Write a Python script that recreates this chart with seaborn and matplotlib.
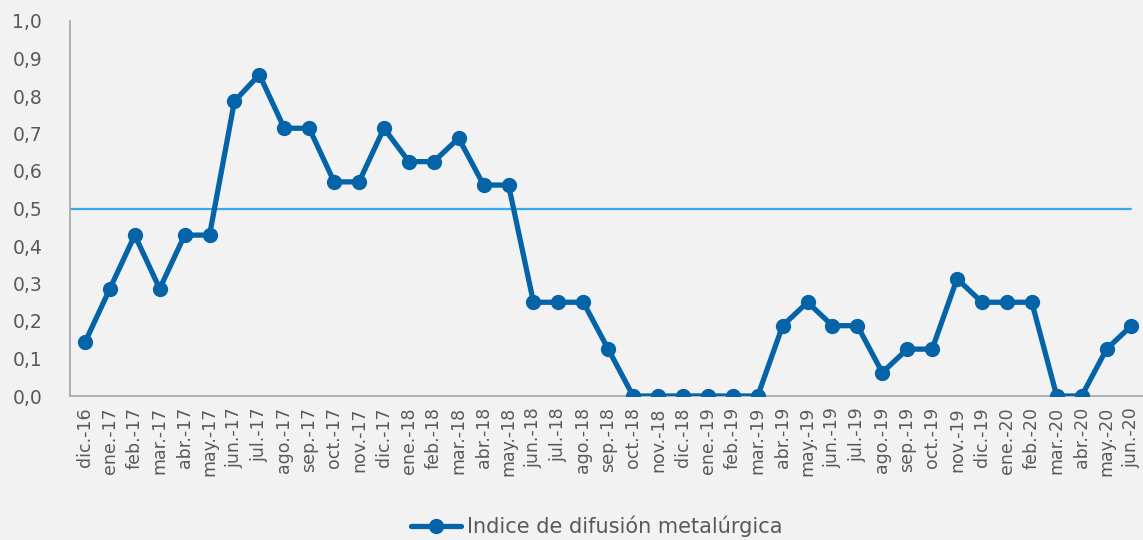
import matplotlib
matplotlib.use("Agg")
import matplotlib.pyplot as plt
from matplotlib.lines import Line2D
import pandas as pd
import numpy as np
import seaborn as sns

# datos
meses = ["dic.-16",
         "ene.-17", "feb.-17", "mar.-17", "abr.-17", "may.-17", "jun.-17",
         "jul.-17", "ago.-17", "sep.-17", "oct.-17", "nov.-17", "dic.-17",
         "ene.-18", "feb.-18", "mar.-18", "abr.-18", "may.-18", "jun.-18",
         "jul.-18", "ago.-18", "sep.-18", "oct.-18", "nov.-18", "dic.-18",
         "ene.-19", "feb.-19", "mar.-19", "abr.-19", "may.-19", "jun.-19",
         "jul.-19", "ago.-19", "sep.-19", "oct.-19", "nov.-19", "dic.-19",
         "ene.-20", "feb.-20", "mar.-20", "abr.-20", "may.-20", "jun.-20"]
indice = [0.143,
          0.286, 0.429, 0.286, 0.429, 0.429, 0.786,
          0.857, 0.714, 0.714, 0.571, 0.571, 0.714,
          0.625, 0.625, 0.6875, 0.5625, 0.5625, 0.25,
          0.25, 0.25, 0.125, 0.0, 0.0, 0.0,
          0.0, 0.0, 0.0, 0.1875, 0.25, 0.1875,
          0.1875, 0.0625, 0.125, 0.125, 0.3125, 0.25,
          0.25, 0.25, 0.0, 0.0, 0.125, 0.1875]
umbral = 0.5
serie = "Indice de difusión metalúrgica"

df = pd.DataFrame({"pos": np.arange(len(meses)), "mes": meses, "valor": indice})

sns.set_theme(style="white")
plt.rcParams["font.family"] = ["DejaVu Sans"]

azul = "#0563A8"
gris_txt = "#595959"
bg = "#F2F2F2"

fig = plt.figure(figsize=(11.43, 5.40), dpi=100, facecolor=bg)
ax = fig.add_axes([70 / 1143, 144 / 540, 1 - 70 / 1143 + 0.003, 375 / 540])
ax.set_facecolor(bg)

# linea de referencia en 0,5
ax.plot([-0.6, len(meses) - 1], [umbral, umbral], color="#36A9F0", linewidth=1.6, zorder=1)

sns.lineplot(data=df, x="pos", y="valor", ax=ax, color=azul, linewidth=3.8,
             marker="o", markersize=11, markeredgewidth=0, zorder=3, legend=False)

ax.set_xlim(-0.6, len(meses) - 0.4)
ax.set_ylim(0, 1.0)
ax.set_yticks(np.arange(0, 1.01, 0.1))
ax.set_yticklabels([f"{v:.1f}".replace(".", ",") for v in np.arange(0, 1.01, 0.1)],
                   fontsize=13.5, color=gris_txt)
ax.set_xticks(df["pos"])
ax.set_xticklabels(meses, rotation=90, fontsize=12.5, color=gris_txt)
ax.tick_params(axis="both", length=0, pad=8)
ax.tick_params(axis="y", pad=20)
ax.set_xlabel("")
ax.set_ylabel("")

for s in ["top", "right"]:
    ax.spines[s].set_visible(False)
for s in ["left", "bottom"]:
    ax.spines[s].set_color("#A6A6A6")
    ax.spines[s].set_linewidth(1.2)
    ax.spines[s].set_zorder(2)

handle = Line2D([0], [0], color=azul, linewidth=3.8, marker="o", markersize=11,
                markeredgewidth=0)
fig.legend([handle], [serie], loc="center", bbox_to_anchor=(0.522, 0.025),
           frameon=False, fontsize=15, labelcolor=gris_txt, handlelength=2.4,
           handletextpad=0.3)

fig.savefig("out.png", dpi=100, facecolor=bg)
